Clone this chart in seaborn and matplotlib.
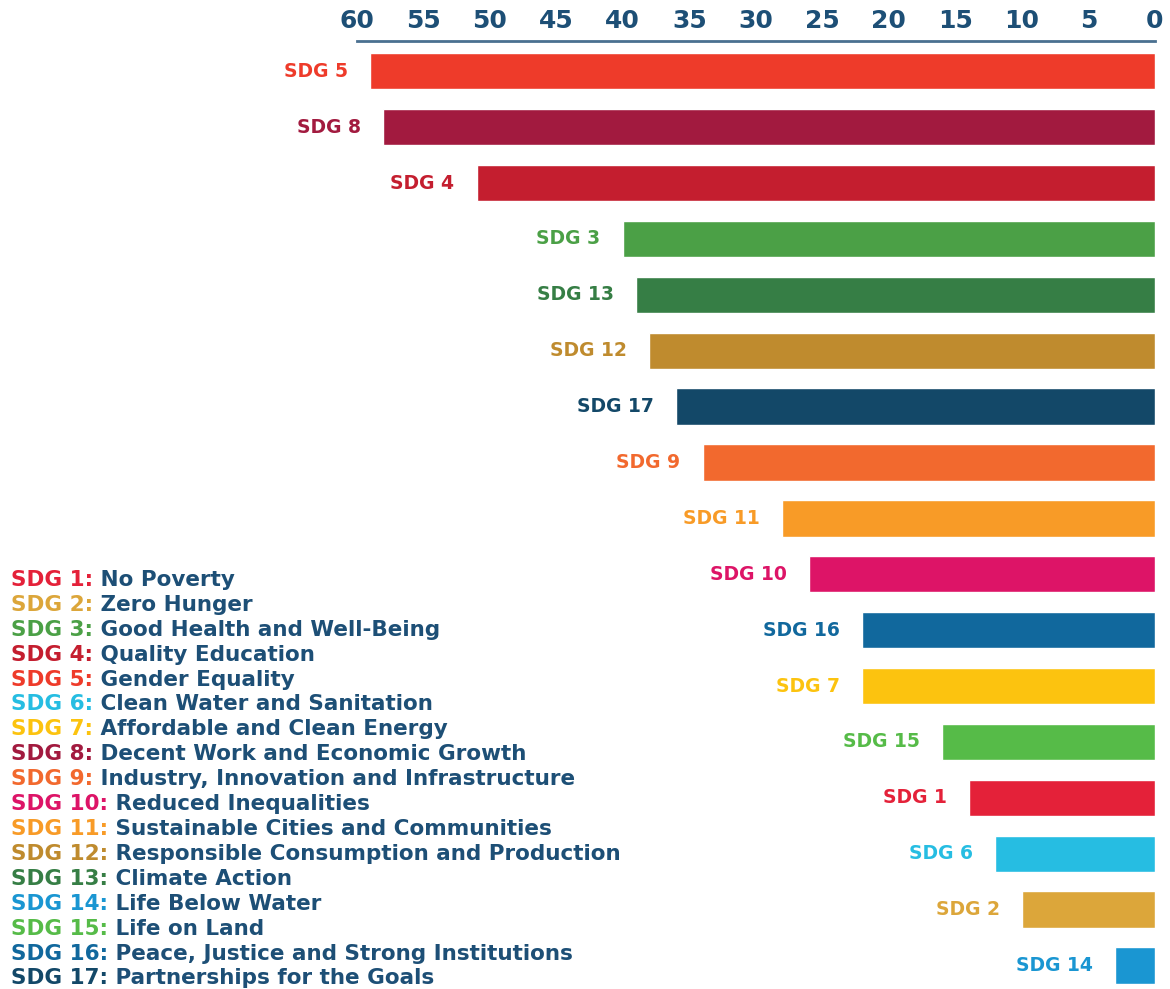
import matplotlib
matplotlib.use("Agg")
import matplotlib.pyplot as plt
import seaborn as sns
import pandas as pd

# bars, top to bottom
bar_labels = ["SDG 5", "SDG 8", "SDG 4", "SDG 3", "SDG 13", "SDG 12", "SDG 17", "SDG 9",
              "SDG 11", "SDG 10", "SDG 16", "SDG 7", "SDG 15", "SDG 1", "SDG 6", "SDG 2", "SDG 14"]
bar_values = [59, 58, 51, 40, 39, 38, 36, 34, 28, 26, 22, 22, 16, 14, 12, 10, 3]

x_ticks = [60, 55, 50, 45, 40, 35, 30, 25, 20, 15, 10, 5, 0]

# legend
legend_codes = ["SDG 1:", "SDG 2:", "SDG 3:", "SDG 4:", "SDG 5:", "SDG 6:", "SDG 7:", "SDG 8:",
                "SDG 9:", "SDG 10:", "SDG 11:", "SDG 12:", "SDG 13:", "SDG 14:", "SDG 15:",
                "SDG 16:", "SDG 17:"]
legend_names = ["No Poverty", "Zero Hunger", "Good Health and Well-Being", "Quality Education",
                "Gender Equality", "Clean Water and Sanitation", "Affordable and Clean Energy",
                "Decent Work and Economic Growth", "Industry, Innovation and Infrastructure",
                "Reduced Inequalities", "Sustainable Cities and Communities",
                "Responsible Consumption and Production", "Climate Action", "Life Below Water",
                "Life on Land", "Peace, Justice and Strong Institutions",
                "Partnerships for the Goals"]

sdg_colors = {
    "SDG 1": "#E42139", "SDG 2": "#DCA63A", "SDG 3": "#4BA046", "SDG 4": "#C41E2F",
    "SDG 5": "#EE3B2A", "SDG 6": "#26BDE2", "SDG 7": "#FCC30F", "SDG 8": "#A21A3F",
    "SDG 9": "#F2692E", "SDG 10": "#DD1467", "SDG 11": "#F89B27", "SDG 12": "#BF8B2E",
    "SDG 13": "#367E45", "SDG 14": "#1A96D2", "SDG 15": "#56BB48", "SDG 16": "#11689D",
    "SDG 17": "#134868",
}
navy = "#1D4F76"

sns.set_theme(style="white")
plt.rcParams["font.family"] = ["DejaVu Sans"]

df = pd.DataFrame({"sdg": bar_labels, "count": bar_values})

fig = plt.figure(figsize=(11.7, 9.89), dpi=100)
ax = fig.add_axes([0.305, 0.0, 0.682, 0.9585])

sns.barplot(data=df, x="count", y="sdg", hue="sdg", palette=sdg_colors, orient="h",
            width=0.65, legend=False, ax=ax, saturation=1)

ax.set_xlim(60, 0)
ax.set_ylim(16.42, -0.54)
ax.xaxis.tick_top()
ax.set_xticks(x_ticks)
ax.set_xticklabels([str(t) for t in x_ticks], fontsize=18, fontweight="bold", color=navy)
ax.tick_params(axis="x", length=0, pad=6)
ax.set_yticks([])
ax.set_xlabel("")
ax.set_ylabel("")
for s in ["left", "right", "bottom"]:
    ax.spines[s].set_visible(False)
ax.spines["top"].set_color("#4A7090")
ax.spines["top"].set_linewidth(2)

for i, (lab, val) in enumerate(zip(bar_labels, bar_values)):
    ax.annotate(lab, xy=(val, i), xytext=(-16, 0), textcoords="offset points",
                ha="right", va="center", fontsize=13.5, fontweight="bold",
                color=sdg_colors[lab])

# legend block, bottom left
y0 = 1 - 580 / 989
step = 24.9 / 989
for k, (code, name) in enumerate(zip(legend_codes, legend_names)):
    t = fig.text(0.009, y0 - k * step, code, ha="left", va="center", fontsize=15.5,
                 fontweight="bold", color=sdg_colors[code.rstrip(":")])
    ax.annotate(" " + name, xy=(1, 0), xycoords=t, ha="left", va="bottom",
                fontsize=15.5, fontweight="bold", color=navy, annotation_clip=False)

fig.savefig("out.png", dpi=100)
